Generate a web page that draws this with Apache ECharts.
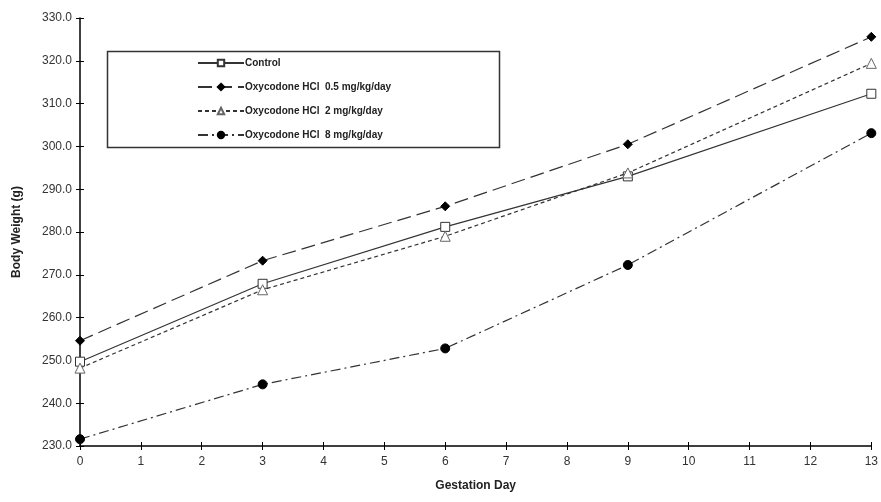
<!DOCTYPE html>
<html>
<head>
<meta charset="utf-8">
<script src="https://cdn.jsdelivr.net/npm/echarts@6/dist/echarts.min.js"></script>
<style>
    html,body{margin:0;padding:0;background:#fff;}
    #main{width:881px;height:502px;}
</style>
</head>
<body>
<div id="main"></div>
<script>
// gestation days
var days = [0, 3, 6, 9, 13];
var xTicks = [0, 13, 1]; // min, max, interval
var yTicks = [230, 330, 10];

var names = ['Control', 'Oxycodone HCl  0.5 mg/kg/day', 'Oxycodone HCl  2 mg/kg/day', 'Oxycodone HCl  8 mg/kg/day'];
var control = [249.7, 267.9, 281.2, 293.0, 312.3];
var dose05 = [254.6, 273.3, 286.0, 300.5, 325.6];
var dose2 = [248.2, 266.5, 279.0, 293.8, 319.4];
var dose8 = [231.6, 244.4, 252.8, 272.3, 303.1];

var font = 'Liberation Sans, Arial, sans-serif';

function pairs(vals){
    var out = [];
    for(var i = 0; i < days.length; i++){
        out.push([days[i], vals[i]]);
    }
    return out;
}

// show=false -> twin axis only for the inner half of the ticks
function axisX(ticks, show){
    return {
        type: 'value', min: ticks[0], max: ticks[1], interval: ticks[2], position: 'bottom',
        name: show ? 'Gestation Day' : '', nameLocation: 'middle', nameGap: 34,
        nameTextStyle: {fontFamily: font, fontSize: 12, fontWeight: 'bold', color: '#222'},
        axisLine: {show: show, onZero: false, lineStyle: {color: '#000', width: 1.5}},
        axisTick: {show: true, inside: !show, length: 4, lineStyle: {color: '#000'}},
        axisLabel: {show: show, margin: 10, fontFamily: font, fontSize: 12, color: '#333'},
        splitLine: {show: false}
    };
}
function axisY(ticks, show){
    return {
        type: 'value', min: ticks[0], max: ticks[1], interval: ticks[2], position: 'left',
        name: show ? 'Body Weight (g)' : '', nameLocation: 'middle', nameGap: 57, nameRotate: 90,
        nameTextStyle: {fontFamily: font, fontSize: 12, fontWeight: 'bold', color: '#222'},
        axisLine: {show: show, onZero: false, lineStyle: {color: '#000', width: 1.5}},
        axisTick: {show: true, inside: !show, length: 4, lineStyle: {color: '#000'}},
        axisLabel: {show: show, margin: 8, fontFamily: font, fontSize: 12, color: '#333',
            formatter: function(v){ return v.toFixed(1); }},
        splitLine: {show: false}
    };
}

function mkSeries(name, vals, symbol, fill, border, dash, size){
    return {
        name: name, type: 'line', data: pairs(vals),
        symbol: symbol, symbolSize: size, showSymbol: true,
        lineStyle: {color: '#333', width: 1.2, type: dash},
        itemStyle: {color: fill, borderColor: border, borderWidth: 1},
        z: 3, animation: false
    };
}

var myChart = echarts.init(document.getElementById('main'));
var option = {
    backgroundColor: '#fff',
    animation: false,
    grid: {left: 80, right: 9, top: 18, bottom: 56},
    xAxis: [axisX(xTicks, true), axisX(xTicks, false)],
    yAxis: [axisY(yTicks, true), axisY(yTicks, false)],
    legend: {
        orient: 'vertical', left: 192, top: 53,
        itemWidth: 46, itemHeight: 8, itemGap: 14,
        textStyle: {fontFamily: font, fontSize: 10, fontWeight: 'bold', color: '#222', padding: [0, 0, 0, -4]},
        data: names
    },
    graphic: [{
        type: 'rect', left: 105, top: 49,
        shape: {width: 392, height: 96},
        style: {fill: 'none', stroke: '#333', lineWidth: 1.5}
    }],
    series: [
        mkSeries(names[0], control, 'rect', '#fff', '#333', 'solid', 9),
        mkSeries(names[1], dose05, 'diamond', '#000', '#000', [14, 6], 9),
        mkSeries(names[2], dose2, 'triangle', '#fff', '#666', [4, 3], 10),
        mkSeries(names[3], dose8, 'circle', '#000', '#000', [10, 4, 2, 4], 9)
    ]
};
myChart.setOption(option);
</script>
</body>
</html>
